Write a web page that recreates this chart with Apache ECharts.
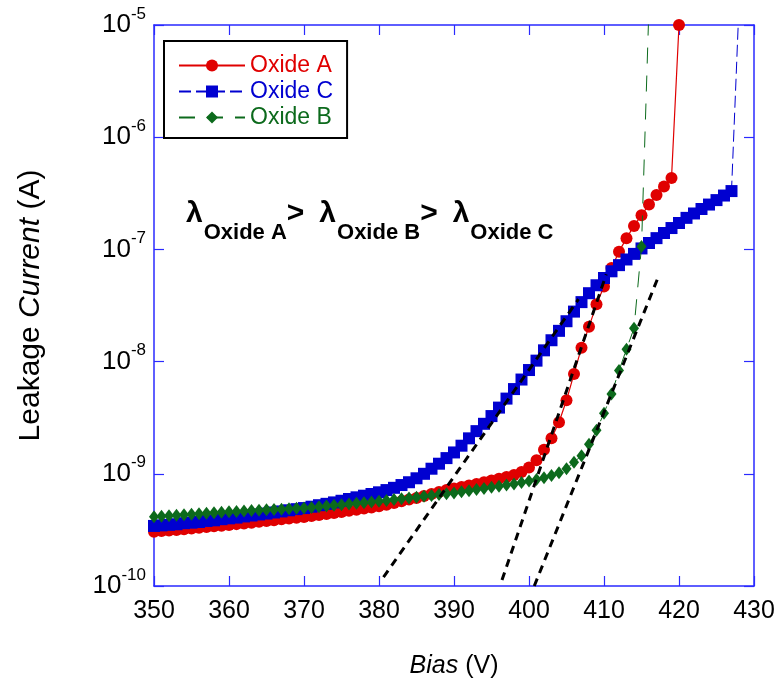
<!DOCTYPE html>
<html><head><meta charset="utf-8">
<script src="https://cdn.jsdelivr.net/npm/echarts@6/dist/echarts.min.js"></script>
<style>html,body{margin:0;padding:0;background:#fff}#c{width:781px;height:690px}</style>
</head><body><div id="c"></div>
<script>
// ---- data (Bias in V, Leakage current in A) ----
const biasA = [350,351,352,353,354,355,356,357,358,359,360,361,362,363,364,365,366,367,368,369,370,371,372,373,374,375,376,377,378,379,380,381,382,383,384,385,386,387,388,389,390,391,392,393,394,395,396,397,398,399,400,401,402,403,404,405,406,407,408,409,410,411,412,413,414,415,416,417,418,419,420];
const currentA = [3.05e-10,3.09e-10,3.13e-10,3.16e-10,3.20e-10,3.25e-10,3.30e-10,3.35e-10,3.40e-10,3.45e-10,3.50e-10,3.56e-10,3.61e-10,3.67e-10,3.74e-10,3.80e-10,3.86e-10,3.93e-10,3.99e-10,4.06e-10,4.12e-10,4.21e-10,4.30e-10,4.39e-10,4.48e-10,4.57e-10,4.68e-10,4.79e-10,4.90e-10,5.01e-10,5.13e-10,5.31e-10,5.50e-10,5.69e-10,5.89e-10,6.10e-10,6.35e-10,6.61e-10,6.89e-10,7.18e-10,7.41e-10,7.64e-10,7.87e-10,8.13e-10,8.39e-10,8.71e-10,9.02e-10,9.38e-10,9.77e-10,1.04e-9,1.14e-9,1.32e-9,1.64e-9,2.07e-9,2.88e-9,4.52e-9,7.76e-9,1.33e-8,2.04e-8,3.24e-8,4.68e-8,6.84e-8,9.55e-8,1.26e-7,1.62e-7,2.02e-7,2.51e-7,3.05e-7,3.63e-7,4.32e-7,1.0e-5];

const biasC = [350,351,352,353,354,355,356,357,358,359,360,361,362,363,364,365,366,367,368,369,370,371,372,373,374,375,376,377,378,379,380,381,382,383,384,385,386,387,388,389,390,391,392,393,394,395,396,397,398,399,400,401,402,403,404,405,406,407,408,409,410,411,412,413,414,415,416,417,418,419,420,421,422,423,424,425,426,427,428];
const currentC = [3.43e-10,3.47e-10,3.51e-10,3.55e-10,3.63e-10,3.67e-10,3.72e-10,3.80e-10,3.85e-10,3.94e-10,4.01e-10,4.07e-10,4.17e-10,4.25e-10,4.34e-10,4.42e-10,4.52e-10,4.62e-10,4.73e-10,4.84e-10,4.95e-10,5.09e-10,5.25e-10,5.40e-10,5.56e-10,5.75e-10,5.96e-10,6.17e-10,6.38e-10,6.61e-10,6.84e-10,7.16e-10,7.50e-10,7.94e-10,8.41e-10,9.12e-10,1.00e-9,1.11e-9,1.23e-9,1.38e-9,1.55e-9,1.78e-9,2.07e-9,2.40e-9,2.79e-9,3.27e-9,3.89e-9,4.68e-9,5.69e-9,6.92e-9,8.41e-9,1.02e-8,1.26e-8,1.55e-8,1.88e-8,2.29e-8,2.79e-8,3.39e-8,4.07e-8,4.79e-8,5.56e-8,6.38e-8,7.24e-8,8.13e-8,9.12e-8,1.02e-7,1.14e-7,1.26e-7,1.40e-7,1.55e-7,1.72e-7,1.91e-7,2.09e-7,2.29e-7,2.51e-7,2.75e-7,3.02e-7,3.31e-7,1.5e-5];

const biasB = [350,351,352,353,354,355,356,357,358,359,360,361,362,363,364,365,366,367,368,369,370,371,372,373,374,375,376,377,378,379,380,381,382,383,384,385,386,387,388,389,390,391,392,393,394,395,396,397,398,399,400,401,402,403,404,405,406,407,408,409,410,411,412,413,414,415,416];
const currentB = [4.14e-10,4.19e-10,4.23e-10,4.27e-10,4.32e-10,4.37e-10,4.41e-10,4.46e-10,4.50e-10,4.55e-10,4.59e-10,4.62e-10,4.66e-10,4.70e-10,4.73e-10,4.78e-10,4.81e-10,4.84e-10,4.89e-10,4.92e-10,4.95e-10,5.02e-10,5.09e-10,5.16e-10,5.24e-10,5.31e-10,5.38e-10,5.46e-10,5.53e-10,5.61e-10,5.69e-10,5.78e-10,5.89e-10,5.98e-10,6.10e-10,6.19e-10,6.31e-10,6.41e-10,6.53e-10,6.64e-10,6.76e-10,6.92e-10,7.08e-10,7.24e-10,7.41e-10,7.59e-10,7.76e-10,7.94e-10,8.13e-10,8.36e-10,8.61e-10,8.91e-10,9.23e-10,9.66e-10,1.02e-9,1.11e-9,1.27e-9,1.45e-9,1.83e-9,2.45e-9,3.47e-9,5.13e-9,8.32e-9,1.29e-8,1.98e-8,1.06e-7,1.5e-5];

// dashed fit lines (end points)
const fitC_bias = [380.6, 406.6];
const fitC_current = [1.2e-10, 3.6e-8];
const fitA_bias = [396.4, 410.3];
const fitA_current = [1.13e-10, 6.0e-8];
const fitB_bias = [400.7, 417.2];
const fitB_current = [1.0e-10, 5.6e-8];

const seriesNames = ['Oxide A', 'Oxide C', 'Oxide B'];
const xMin = 350, xMax = 430, xStep = 10;
const yMin = 1e-10, yMax = 1e-5;

// ---- styling ----
const RED = '#e00000', BLUE = '#0000d0', GREEN = '#0c6a1c', AXIS = '#2a2aff';
const FONT = '"Liberation Sans", Arial, Helvetica, sans-serif';

function pairs(xs, ys) { return xs.map((x, i) => [x, ys[i]]); }

const chart = echarts.init(document.getElementById('c'), null, {renderer: 'canvas'});

const axisLine = {show: true, lineStyle: {color: AXIS, width: 1.5}};
const axisTick = {show: true, inside: true, length: 10, lineStyle: {color: AXIS, width: 1.2}};

function fitSeries(xs, ys) {
  return {
    type: 'line', data: pairs(xs, ys), symbol: 'none', silent: true, z: 5,
    lineStyle: {color: '#000', width: 3, type: [8, 6]}, animation: false
  };
}

chart.setOption({
  animation: false,
  textStyle: {fontFamily: FONT},
  grid: {left: 154, right: 27, top: 25, bottom: 104, containLabel: false},
  legend: {
    show: true, orient: 'vertical', left: 164, top: 41,
    padding: [13, 14, 9, 14], borderColor: '#000', borderWidth: 2,
    itemGap: 3, itemWidth: 66, itemHeight: 15, selectedMode: false,
    textStyle: {fontSize: 23, fontFamily: FONT},
    data: [
      {name: seriesNames[0], textStyle: {color: RED}},
      {name: seriesNames[1], textStyle: {color: BLUE}},
      {name: seriesNames[2], textStyle: {color: GREEN}}
    ]
  },
  xAxis: [{
    type: 'value', min: xMin, max: xMax, interval: xStep, position: 'bottom',
    axisLine, axisTick, splitLine: {show: false},
    axisLabel: {color: '#000', fontSize: 25, margin: 13, fontFamily: FONT},
    name: '{i|Bias} (V)', nameLocation: 'middle', nameGap: 68,
    nameTextStyle: {color: '#000', fontSize: 25, fontFamily: FONT,
      rich: {i: {fontStyle: 'italic', fontSize: 25, color: '#000', fontFamily: FONT}}}
  }, {
    type: 'value', min: xMin, max: xMax, interval: xStep, position: 'top',
    axisLine, axisTick, axisLabel: {show: false}, splitLine: {show: false}
  }],
  yAxis: [{
    type: 'log', logBase: 10, min: yMin, max: yMax, position: 'left',
    axisLine, axisTick, splitLine: {show: false}, minorTick: {show: false},
    axisLabel: {
      color: '#000', margin: 8, fontFamily: FONT,
      formatter: v => '{b|10}{s|' + Math.round(Math.log10(v)) + '}',
      rich: {
        b: {fontSize: 26, color: '#000', fontFamily: FONT, lineHeight: 26},
        s: {fontSize: 17, color: '#000', fontFamily: FONT, lineHeight: 18, padding: [0, 0, 22, 0]}
      }
    },
    name: 'Leakage {i|Current} (A)', nameLocation: 'middle', nameGap: 108, nameRotate: 90,
    nameTextStyle: {color: '#000', fontSize: 30, fontFamily: FONT,
      rich: {i: {fontStyle: 'italic', fontSize: 30, color: '#000', fontFamily: FONT}}}
  }, {
    type: 'log', logBase: 10, min: yMin, max: yMax, position: 'right',
    axisLine, axisTick, axisLabel: {show: false}, splitLine: {show: false}
  }],
  graphic: [{
    type: 'text', left: 186, top: 189, silent: true,
    style: {
      text: '{l|λ}{s|Oxide A}{g|>}{l|λ}{s|Oxide B}{g|>}{l|λ}{s|Oxide C}',
      fill: '#000', font: 'bold 30px ' + FONT,
      rich: {
        l: {fontSize: 30, fontWeight: 'bold', fontFamily: FONT, lineHeight: 32, fill: '#000', padding: [9, 0, 14, 0]},
        g: {fontSize: 30, fontWeight: 'bold', fontFamily: FONT, lineHeight: 32, fill: '#000', padding: [9, 15, 14, 0]},
        s: {fontSize: 22, fontWeight: 'bold', fontFamily: FONT, lineHeight: 22, fill: '#000', padding: [33, 0, 0, 1]}
      }
    }
  }],
  series: [{
    name: seriesNames[0], type: 'line', data: pairs(biasA, currentA),
    symbol: 'circle', symbolSize: 12, clip: true, z: 2,
    itemStyle: {color: RED}, lineStyle: {color: RED, width: 1.2}
  }, {
    name: seriesNames[1], type: 'line', data: pairs(biasC, currentC),
    symbol: 'rect', symbolSize: 12, clip: true, z: 3,
    itemStyle: {color: BLUE}, lineStyle: {color: BLUE, width: 1, type: [12, 5]}
  }, {
    name: seriesNames[2], type: 'line', data: pairs(biasB, currentB),
    symbol: 'diamond', symbolSize: [10, 13], clip: true, z: 4,
    itemStyle: {color: GREEN}, lineStyle: {color: GREEN, width: 1, type: [16, 12]}
  },
  fitSeries(fitC_bias, fitC_current),
  fitSeries(fitA_bias, fitA_current),
  fitSeries(fitB_bias, fitB_current)
  ]
});
</script></body></html>
